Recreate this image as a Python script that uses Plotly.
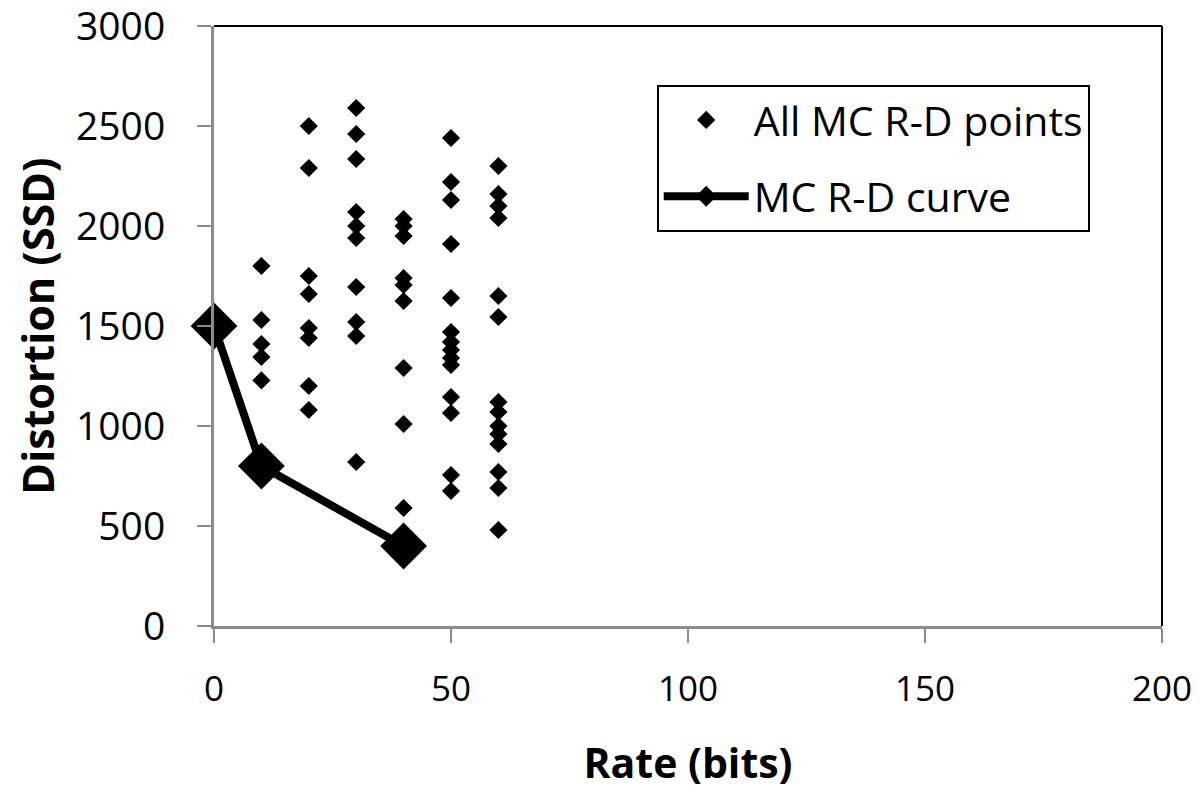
import plotly.graph_objects as go

# All MC R-D points, grouped by rate (bits)
rate_10 = [1800, 1530, 1410, 1345, 1228]
rate_20 = [2500, 2290, 1750, 1660, 1490, 1440, 1200, 1080]
rate_30 = [2590, 2460, 2335, 2070, 2000, 1940, 1695, 1520, 1450, 820]
rate_40 = [2035, 2000, 1950, 1740, 1705, 1625, 1290, 1010, 590]
rate_50 = [2440, 2220, 2130, 1910, 1640, 1470, 1420, 1380, 1340, 1305, 1145, 1065, 755, 675]
rate_60 = [2300, 2160, 2100, 2040, 1650, 1545, 1120, 1070, 1000, 960, 910, 770, 690, 480]

# MC R-D curve
curve_rate = [0, 10, 40]
curve_dist = [1500, 800, 400]

x_ticks = [0, 50, 100, 150, 200]
y_ticks = [0, 500, 1000, 1500, 2000, 2500, 3000]

groups = [(10, rate_10), (20, rate_20), (30, rate_30), (40, rate_40), (50, rate_50), (60, rate_60)]
pts_x, pts_y = [], []
for r, vals in groups:
    pts_x += [r] * len(vals)
    pts_y += vals

FONT = "Open Sans"

fig = go.Figure()
fig.add_trace(go.Scatter(
    x=pts_x, y=pts_y, mode="markers", name="All MC R-D points",
    marker=dict(symbol="diamond", size=14, color="black"),
    legendgroup="a", cliponaxis=False,
))
fig.add_trace(go.Scatter(
    x=curve_rate, y=curve_dist, mode="lines+markers", name="MC R-D curve",
    line=dict(color="black", width=8),
    marker=dict(symbol="diamond", size=36, color="black"),
    legendgroup="b", cliponaxis=False,
))

fig.update_layout(
    width=1184, height=783,
    margin=dict(l=206, r=30, t=18, b=165, autoexpand=False),
    paper_bgcolor="white", plot_bgcolor="white",
    font=dict(family=FONT, size=38, color="black"),
    showlegend=True,
    legend=dict(
        x=0.467, y=0.902, xanchor="left", yanchor="top",
        bordercolor="black", borderwidth=2, bgcolor="white",
        font=dict(family=FONT, size=41, color="black"),
        tracegroupgap=20, traceorder="grouped",
        itemsizing="trace", itemwidth=85,
    ),
    shapes=[
        dict(type="line", xref="paper", yref="paper", x0=0, x1=1, y0=1, y1=1,
             line=dict(color="black", width=2)),
        dict(type="line", xref="paper", yref="paper", x0=1, x1=1, y0=0, y1=1,
             line=dict(color="black", width=2)),
    ],
)
fig.update_xaxes(
    range=[0, 200], tickvals=x_ticks, showgrid=False, zeroline=False,
    showline=True, linecolor="#8c8c8c", linewidth=3, automargin=False,
    ticks="outside", ticklen=14, tickwidth=2, tickcolor="#8c8c8c",
    ticklabelstandoff=16, ticklabeloverflow="allow",
    tickfont=dict(family=FONT, size=35),
    title=dict(text="<b>Rate (bits)</b>", font=dict(family=FONT, size=41), standoff=40),
)
fig.update_yaxes(
    range=[0, 3000], tickvals=y_ticks, showgrid=False, zeroline=False,
    showline=True, linecolor="#8c8c8c", linewidth=3, automargin=False,
    ticks="outside", ticklen=14, tickwidth=2, tickcolor="#8c8c8c",
    ticklabelstandoff=24, ticklabeloverflow="allow",
    tickfont=dict(family=FONT, size=39),
    title=dict(text="<b>Distortion (SSD)</b>", font=dict(family=FONT, size=43), standoff=16),
)

fig.write_html("out.html")
